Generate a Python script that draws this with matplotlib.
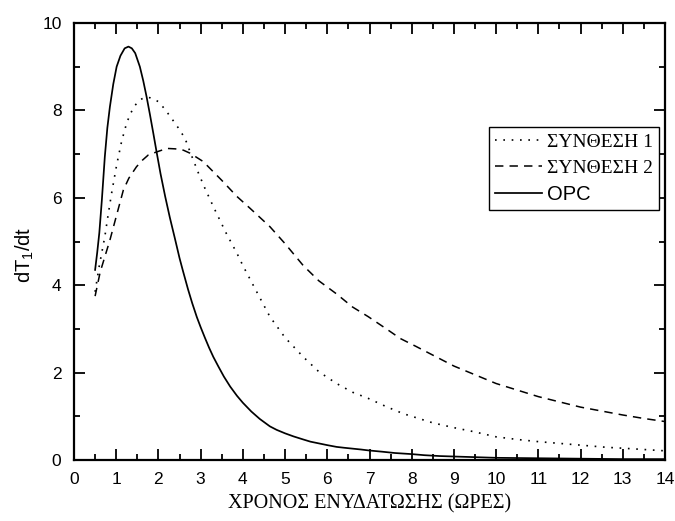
import matplotlib
matplotlib.use("Agg")
import matplotlib.pyplot as plt
from matplotlib.ticker import MultipleLocator

# ---- data ----
opc_x = [0.5, 0.55, 0.6, 0.66, 0.73, 0.79, 0.85, 0.93, 1.01, 1.1, 1.2, 1.29,
         1.37, 1.45, 1.56, 1.64, 1.72, 1.8, 1.88, 1.96, 2.05, 2.16, 2.27, 2.39, 2.5, 2.58,
         2.7, 2.8, 2.91, 3.0, 3.1, 3.2, 3.3, 3.42, 3.55, 3.7, 3.86, 4.0, 4.2, 4.4, 4.64,
         4.8, 5.0, 5.2, 5.43, 5.6, 5.8, 6.0, 6.22, 6.4, 6.6, 6.8, 6.97, 7.3, 7.6, 8.0,
         8.3, 8.67, 9.0, 9.5, 10.0, 10.5, 11.0, 11.5, 12.0, 12.5, 13.0, 13.5, 14.0]
opc_y = [4.35, 4.75, 5.2, 5.95, 6.94, 7.6, 8.08, 8.6, 9.0, 9.25, 9.42, 9.46,
         9.42, 9.31, 9.0, 8.68, 8.31, 7.9, 7.47, 7.03, 6.55, 6.03, 5.55, 5.07, 4.62, 4.33,
         3.91, 3.59, 3.27, 3.04, 2.80, 2.57, 2.36, 2.14, 1.91, 1.68, 1.47, 1.31, 1.11,
         0.94, 0.77, 0.69, 0.61, 0.54, 0.47, 0.42, 0.38, 0.34, 0.30, 0.28, 0.26, 0.24,
         0.22, 0.19, 0.16, 0.135, 0.11, 0.09, 0.08, 0.065, 0.05, 0.045, 0.04, 0.035, 0.03,
         0.025, 0.02, 0.02, 0.02]

s1_x = [0.5, 0.6, 0.73, 0.81, 0.89, 1.01, 1.13, 1.25, 1.35, 1.45, 1.56, 1.68, 1.8, 1.9,
        2.0, 2.15, 2.31, 2.47, 2.63, 2.75, 2.95, 3.1, 3.3, 3.45, 3.6, 3.86, 4.0, 4.3,
        4.64, 5.0, 5.43, 5.8, 6.22, 6.6, 6.97, 7.4, 7.8, 8.5, 9.0, 9.46, 10.0, 10.5,
        11.0, 11.5, 12.0, 12.62, 13.0, 13.5, 14.0]
s1_y = [3.85, 4.45, 5.11, 5.62, 6.1, 6.75, 7.3, 7.72, 7.95, 8.12, 8.24, 8.3, 8.29, 8.25,
        8.2, 8.03, 7.82, 7.6, 7.36, 7.05, 6.56, 6.22, 5.8, 5.5, 5.2, 4.73, 4.45, 3.9,
        3.28, 2.8, 2.36, 2.02, 1.75, 1.55, 1.41, 1.22, 1.06, 0.85, 0.74, 0.65, 0.53,
        0.47, 0.42, 0.38, 0.34, 0.29, 0.27, 0.24, 0.21]

s2_x = [0.5, 0.62, 0.73, 0.85, 1.0, 1.17, 1.3, 1.48, 1.62, 1.76, 1.96, 2.2, 2.4, 2.59,
        2.75, 3.06, 3.5, 3.86, 4.17, 4.64, 5.0, 5.43, 5.8, 6.22, 6.6, 6.97, 7.4, 7.73,
        8.1, 8.5, 9.0, 9.5, 10.0, 10.5, 11.0, 11.5, 12.0, 12.5, 13.0, 13.5, 14.0]
s2_y = [3.75, 4.3, 4.65, 5.03, 5.57, 6.18, 6.45, 6.71, 6.86, 6.98, 7.05, 7.13, 7.12, 7.09,
        7.02, 6.83, 6.4, 6.03, 5.76, 5.34, 4.95, 4.45, 4.1, 3.8, 3.5, 3.28, 3.0, 2.78,
        2.6, 2.4, 2.15, 1.95, 1.75, 1.6, 1.45, 1.33, 1.21, 1.12, 1.03, 0.95, 0.88]

series_labels = ["ΣΥΝΘΕΣΗ 1", "ΣΥΝΘΕΣΗ 2", "OPC"]
x_label = "ΧΡΟΝΟΣ ΕΝΥΔΑΤΩΣΗΣ (ΩΡΕΣ)"
y_label = r"dT$_1$/dt"

# ---- style ----
plt.rcParams["font.family"] = ["Liberation Sans", "DejaVu Sans"]
plt.rcParams["mathtext.fontset"] = "custom"
plt.rcParams["mathtext.rm"] = "Liberation Sans"
plt.rcParams["mathtext.it"] = "Liberation Sans"
plt.rcParams["mathtext.default"] = "regular"

fig = plt.figure(figsize=(6.75, 5.21), dpi=100)
ax = fig.add_axes([74 / 675, 61 / 521, 591 / 675, 437 / 521])

l1, = ax.plot(s1_x, s1_y, color="black", lw=1.2, linestyle=(0, (1, 4)))
l2, = ax.plot(s2_x, s2_y, color="black", lw=1.1, linestyle=(0, (5.5, 4)))
l3, = ax.plot(opc_x, opc_y, color="black", lw=1.25, linestyle="-")

ax.set_xlim(0, 14)
ax.set_ylim(0, 10)
ax.xaxis.set_major_locator(MultipleLocator(1))
ax.xaxis.set_minor_locator(MultipleLocator(0.5))
ax.yaxis.set_major_locator(MultipleLocator(2))
ax.yaxis.set_minor_locator(MultipleLocator(1))
ax.tick_params(which="both", direction="in", top=True, right=True, width=1.3,
               labelsize=12.5, colors="black")
ax.tick_params(axis="x", which="both", pad=9)
ax.tick_params(axis="y", which="both", pad=9)
ax.tick_params(which="major", length=8)
ax.tick_params(which="minor", length=4)
for sp in ax.spines.values():
    sp.set_linewidth(1.6)

ax.set_xlabel(x_label, family=["Liberation Serif", "DejaVu Serif"], fontsize=14.5)
ax.xaxis.set_label_coords(0.5, -0.078)
ax.set_ylabel(y_label, fontsize=14.5)
ax.yaxis.set_label_coords(-0.064, 0.47)

leg = ax.legend([l1, l2, l3], series_labels, loc="upper left",
                bbox_to_anchor=(0.703, 0.761), borderaxespad=0, fancybox=False,
                edgecolor="black", framealpha=1, handlelength=2.4, handletextpad=0.25,
                borderpad=0.3, labelspacing=0.42, fontsize=14)
leg.get_frame().set_linewidth(1.0)
for t, lab in zip(leg.get_texts(), series_labels):
    if lab.startswith("Σ"):
        t.set_fontfamily(["Liberation Serif", "DejaVu Serif"])
    else:
        t.set_fontsize(14.5)

fig.savefig("out.png", dpi=100)
